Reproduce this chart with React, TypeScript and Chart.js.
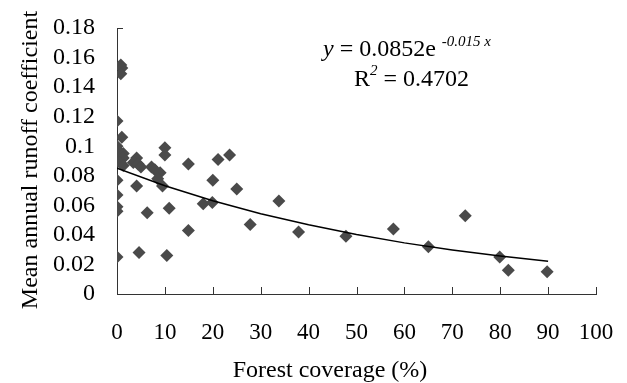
import React, { useEffect, useRef } from 'react';
import { Chart, registerables } from 'chart.js';

Chart.register(...registerables);

// Forest coverage (%) of each catchment
const forestX = [
  0, 1, 0.8, 1.0, 0.8, 0, 0.3, 0, 1.3, 1.3, 0.6, 1.3, 0, 0, 0, 0, 0,
  4.1, 3.4, 4.4, 5.0, 4.1, 4.6, 6.3, 7.2, 7.9, 9.0, 8.5, 9.5, 10, 10, 10.9, 10.4,
  14.9, 14.9, 18, 19.9, 20, 21.1, 23.5, 25, 27.8, 33.8, 37.9, 47.8, 57.7, 65,
  72.7, 79.9, 81.7, 89.8,
];
// Mean annual runoff coefficient of each catchment
const runoffY = [
  0.117, 0.106, 0.155, 0.153, 0.149, 0.1, 0.097, 0.093, 0.095, 0.092, 0.089, 0.087, 0.077, 0.067, 0.059, 0.056, 0.025,
  0.092, 0.089, 0.088, 0.086, 0.073, 0.028, 0.055, 0.086, 0.084, 0.082, 0.078, 0.073, 0.099, 0.094, 0.058, 0.026,
  0.088, 0.043, 0.061, 0.062, 0.077, 0.091, 0.094, 0.071, 0.047, 0.063, 0.042, 0.039, 0.044, 0.032,
  0.053, 0.025, 0.016, 0.015,
];
// Fitted trend line read along its course
const trendX = [0, 10, 20, 30, 40, 50, 60, 70, 80, 90];
const trendY = [0.0852, 0.0733, 0.0631, 0.0543, 0.0468, 0.0403, 0.0346, 0.0298, 0.0257, 0.0221];

const xTickLabels = ['0', '10', '20', '30', '40', '50', '60', '70', '80', '90', '100'];
const yTickLabels = ['0', '0.02', '0.04', '0.06', '0.08', '0.1', '0.12', '0.14', '0.16', '0.18'];
const xTitle = 'Forest coverage (%)';
const yTitle = 'Mean annual runoff coefficient';
const eqMain = ' = 0.0852e ';
const eqExp = '-0.015 x';
const r2Text = ' = 0.4702';

const FONT = "'Liberation Serif', 'Times New Roman', serif";

const decorPlugin = {
  id: 'decor',
  afterDraw(chart: any) {
    const ctx = chart.ctx as CanvasRenderingContext2D;
    const xs = chart.scales.x;
    const ys = chart.scales.y;
    const area = chart.chartArea;
    ctx.save();
    ctx.strokeStyle = '#333';
    ctx.lineWidth = 1;
    ctx.beginPath();
    for (let i = 0; i < xTickLabels.length; i++) {
      const px = Math.round(xs.getPixelForValue(Number(xTickLabels[i]))) + 0.5;
      ctx.moveTo(px, area.bottom);
      ctx.lineTo(px, area.bottom - 7);
    }
    const top = Math.round(ys.getPixelForValue(0.18)) + 0.5;
    ctx.moveTo(area.left, top);
    ctx.lineTo(area.left + 6, top);
    ctx.stroke();

    ctx.fillStyle = '#000';
    ctx.save();
    ctx.translate(31, 160);
    ctx.rotate(-Math.PI / 2);
    ctx.font = `24px ${FONT}`;
    ctx.textAlign = 'center';
    ctx.textBaseline = 'middle';
    ctx.fillText(yTitle, 0, 0);
    ctx.restore();

    ctx.font = `24px ${FONT}`;
    ctx.textAlign = 'center';
    ctx.textBaseline = 'middle';
    ctx.fillText(xTitle, 330, 371);

    ctx.textAlign = 'left';
    ctx.textBaseline = 'alphabetic';
    let x = 323;
    ctx.font = `italic 24px ${FONT}`;
    ctx.fillText('y', x, 56);
    x += ctx.measureText('y').width;
    ctx.font = `24px ${FONT}`;
    ctx.fillText(eqMain, x, 56);
    x += ctx.measureText(eqMain).width;
    ctx.font = `italic 15px ${FONT}`;
    ctx.fillText(eqExp, x, 46);

    x = 354;
    ctx.font = `24px ${FONT}`;
    ctx.fillText('R', x, 86);
    x += ctx.measureText('R').width;
    ctx.font = `italic 15px ${FONT}`;
    ctx.fillText('2', x, 75);
    x += ctx.measureText('2').width;
    ctx.font = `24px ${FONT}`;
    ctx.fillText(r2Text, x, 86);
    ctx.restore();
  },
};

const noPad = (s: any) => {
  s.paddingTop = 0;
  s.paddingBottom = 0;
  s.paddingLeft = 0;
  s.paddingRight = 0;
};

export default function App() {
  const ref = useRef<HTMLCanvasElement | null>(null);
  useEffect(() => {
    if (!ref.current) return;
    const points = forestX.map((v, i) => ({ x: v, y: runoffY[i] }));
    const trend = trendX.map((v, i) => ({ x: v, y: trendY[i] }));
    const chart = new Chart(ref.current, {
      type: 'scatter',
      data: {
        datasets: [
          {
            type: 'line',
            data: trend,
            borderColor: '#000',
            borderWidth: 1.5,
            pointRadius: 0,
            fill: false,
            tension: 0,
            order: 0,
          } as any,
          {
            type: 'scatter',
            data: points,
            pointStyle: 'rectRot',
            pointRadius: 6.5,
            backgroundColor: '#4a4a4a',
            borderColor: '#4a4a4a',
            borderWidth: 0,
            order: 1,
          } as any,
        ],
      },
      options: {
        animation: false,
        responsive: false,
        devicePixelRatio: 1,
        layout: { padding: { left: 0, right: 31, top: 28, bottom: 0 } },
        plugins: {
          legend: { display: false },
          tooltip: { enabled: false },
        },
        scales: {
          x: {
            type: 'linear',
            min: 0,
            max: 100,
            afterFit: (s: any) => { s.height = 89; noPad(s); },
            ticks: {
              stepSize: 10,
              autoSkip: false,
              maxRotation: 0,
              padding: 25,
              color: '#000',
              font: { family: FONT, size: 23 },
              callback: (_v: any, i: number) => xTickLabels[i],
            },
            grid: { display: false, drawTicks: false },
            border: { display: true, color: '#333', width: 1 },
          },
          y: {
            type: 'linear',
            min: 0,
            max: 0.18,
            afterFit: (s: any) => { s.width = 117; noPad(s); },
            ticks: {
              stepSize: 0.02,
              autoSkip: false,
              padding: 22,
              color: '#000',
              font: { family: FONT, size: 24 },
              callback: (_v: any, i: number) => yTickLabels[i],
            },
            grid: { display: false, drawTicks: false },
            border: { display: true, color: '#333', width: 1 },
          },
        },
      },
      plugins: [decorPlugin],
    });
    return () => chart.destroy();
  }, []);
  return (
    <div style={{ position: 'absolute', left: 0, top: 0, width: 627, height: 383, background: '#fff' }}>
      <canvas ref={ref} width={627} height={383} style={{ width: 627, height: 383, display: 'block' }} />
    </div>
  );
}
